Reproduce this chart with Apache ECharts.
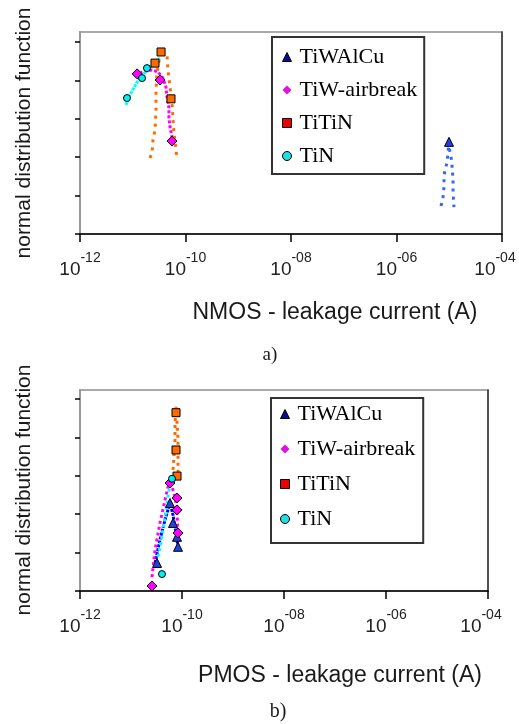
<!DOCTYPE html>
<html><head><meta charset="utf-8">
<script src="https://cdn.jsdelivr.net/npm/echarts@6/dist/echarts.min.js"></script>
<style>html,body{margin:0;padding:0;background:#fff}#c{width:519px;height:724px}</style>
</head><body><div id="c"></div>
<script>
// ---- tick labels ----
const xTickValues = [1e-12, 1e-10, 1e-8, 1e-6, 1e-4];
const xTickExponents = ['-12', '-10', '-08', '-06', '-04'];
const yTickValues = [0, 1, 2, 3, 4, 5];
const seriesNames = ['TiWAlCu', 'TiW-airbreak', 'TiTiN', 'TiN'];

// ---- chart a) NMOS ----
const aTiWAlCuX = [9.9e-6];
const aTiWAlCuY = [2.40];
const aTiWAlCuFitX = [6.98e-6, 7.62e-6, 7.95e-6, 7.95e-6, 8.30e-6, 9.06e-6, 9.46e-6, 9.9e-6, 1.03e-5, 1.13e-5, 1.13e-5, 1.18e-5, 1.18e-5, 1.18e-5, 1.23e-5];
const aTiWAlCuFitY = [0.73, 0.96, 1.22, 1.48, 1.67, 1.85, 2.11, 2.40, 2.11, 1.88, 1.67, 1.48, 1.28, 1.07, 0.70];

const aTiWX = [1.21e-11, 3.29e-11, 5.55e-11];
const aTiWY = [4.17, 4.01, 2.42];
const aTiWFitX = [1.10e-11, 1.56e-11, 2.32e-11, 3.01e-11, 3.74e-11, 4.26e-11, 4.46e-11, 4.86e-11, 4.86e-11, 5.08e-11, 5.55e-11, 5.55e-11];
const aTiWFitY = [4.14, 4.22, 4.27, 4.22, 4.06, 3.83, 3.57, 3.28, 3.02, 2.79, 2.53, 2.42];

const aTiTiNX = [2.64e-11, 3.44e-11, 5.31e-11];
const aTiTiNY = [4.45, 4.74, 3.52];
const aTiTiNFitX = [2.12e-11, 2.32e-11, 2.42e-11, 2.64e-11, 2.76e-11, 2.76e-11, 2.88e-11, 3.44e-11, 4.46e-11, 4.66e-11, 5.08e-11, 5.55e-11, 5.80e-11, 6.05e-11, 6.61e-11, 6.90e-11];
const aTiTiNFitY = [1.98, 2.11, 2.45, 2.71, 3.23, 3.75, 4.19, 4.82, 4.66, 4.27, 3.83, 3.41, 2.97, 2.63, 2.19, 1.93];

const aTiNX = [7.78e-12, 1.50e-11, 1.86e-11];
const aTiNY = [3.54, 4.06, 4.32];
const aTiNFitX = [7.45e-12, 8.87e-12, 1.21e-11, 1.86e-11, 2.42e-11, 3.29e-11];
const aTiNFitY = [3.36, 3.62, 3.96, 4.27, 4.43, 4.58];

// ---- chart b) PMOS ----
const bTiWAlCuX = [3.24e-11, 5.82e-11, 6.66e-11, 7.98e-11, 8.35e-11];
const bTiWAlCuY = [0.73, 2.29, 1.77, 1.41, 1.15];
const bTiWAlCuFitX = [2.96e-11, 3.70e-11, 4.64e-11, 5.82e-11, 6.66e-11, 7.63e-11, 8.35e-11];
const bTiWAlCuFitY = [0.73, 1.33, 1.85, 2.29, 1.98, 1.51, 1.15];

const bTiWX = [2.58e-11, 5.82e-11, 7.98e-11, 7.98e-11, 8.35e-11];
const bTiWY = [0.13, 2.81, 2.42, 2.11, 1.51];
const bTiWFitX = [2.58e-11, 2.96e-11, 3.70e-11, 4.64e-11, 5.31e-11, 6.08e-11, 7.29e-11, 7.98e-11, 8.35e-11];
const bTiWFitY = [0.36, 1.07, 1.77, 2.37, 2.71, 2.81, 2.45, 2.11, 1.41];

const bTiTiNX = [7.63e-11, 7.63e-11, 7.98e-11];
const bTiTiNY = [4.64, 3.67, 2.99];
const bTiTiNFitX = [6.66e-11, 6.97e-11, 7.29e-11, 7.29e-11, 7.63e-11, 7.98e-11, 8.35e-11, 8.35e-11, 8.35e-11, 8.73e-11];
const bTiTiNFitY = [3.15, 3.49, 3.93, 4.38, 4.79, 4.38, 3.93, 3.49, 3.15, 2.89];

const bTiNX = [4.05e-11, 6.37e-11];
const bTiNY = [0.44, 2.92];
const bTiNFitX = [3.38e-11, 4.05e-11, 4.64e-11, 5.31e-11, 6.08e-11];
const bTiNFitY = [0.89, 1.41, 1.93, 2.45, 2.92];

// ---- build ----
const zip = (xs, ys) => xs.map((x, i) => [x, ys[i]]);
const SANS = 'Liberation Sans, Arial, sans-serif';
const SERIF = 'Liberation Serif, Times New Roman, serif';

function xLabel(v) {
  const i = xTickValues.findIndex(t => Math.abs(Math.log10(t) - Math.log10(v)) < 0.01);
  if (i < 0) return '';
  const tail = (i === xTickValues.length - 1) ? '{p|\u200b}' : '';
  return '{h|\u200b}{b|10}{s|' + xTickExponents[i] + '}' + tail;
}

function xAxisFor(gi) {
  return {
    type: 'log', logBase: 100, gridIndex: gi, min: 1e-12, max: 1e-4, splitNumber: 4,
    axisLine: { show: true, lineStyle: { color: '#000', width: 1.5 } },
    axisTick: { show: true, length: 8, lineStyle: { color: '#000', width: 1.5 } },
    minorTick: { show: false }, splitLine: { show: false },
    axisLabel: {
      margin: 17, formatter: xLabel, color: '#222',
      rich: {
        h: { fontSize: 1, lineHeight: 28, width: 0, verticalAlign: 'top' },
        p: { fontSize: 1, lineHeight: 1, width: 14 },
        b: { fontFamily: SANS, fontSize: 19, color: '#222', verticalAlign: 'bottom', lineHeight: 19 },
        s: { fontFamily: SANS, fontSize: 14, color: '#222', verticalAlign: 'top', lineHeight: 14 }
      }
    }
  };
}
function yAxisFor(gi, max) {
  return {
    type: 'value', gridIndex: gi, min: 0, max: max, interval: 1,
    axisLine: { show: true, lineStyle: { color: '#999', width: 2 } },
    axisTick: { show: true, length: 5, customValues: yTickValues, lineStyle: { color: '#000', width: 1.5 } },
    axisLabel: { show: false }, splitLine: { show: false }
  };
}
function rightAxisFor(gi) {
  return {
    type: 'value', gridIndex: gi, position: 'right', min: 0, max: 1,
    axisLine: { show: true, lineStyle: { color: '#333', width: 1.5 } },
    axisTick: { show: false }, axisLabel: { show: false }, splitLine: { show: false }
  };
}

const markerStyle = {
  'TiWAlCu': { symbol: 'triangle', size: 9, color: '#2040e0' },
  'TiW-airbreak': { symbol: 'diamond', size: 10, color: '#ff00ff' },
  'TiTiN': { symbol: 'rect', size: 8, color: '#ff6a00' },
  'TiN': { symbol: 'circle', size: 7, color: '#00f0f0' }
};
const fitStyle = {
  a: {
    'TiWAlCu': { color: '#3366ff', type: [3, 5] },
    'TiW-airbreak': { color: '#ff00ff', type: [3, 2] },
    'TiTiN': { color: '#ff6a00', type: [3, 5] },
    'TiN': { color: '#00ffff', type: [3, 1] }
  },
  b: {
    'TiWAlCu': { color: '#0000ff', type: [3, 1] },
    'TiW-airbreak': { color: '#ff00ff', type: [3, 3] },
    'TiTiN': { color: '#ff6a00', type: [3, 4] },
    'TiN': { color: '#00ffff', type: [3, 3] }
  }
};

const dataSets = {
  a: {
    'TiWAlCu': [aTiWAlCuX, aTiWAlCuY, aTiWAlCuFitX, aTiWAlCuFitY],
    'TiW-airbreak': [aTiWX, aTiWY, aTiWFitX, aTiWFitY],
    'TiTiN': [aTiTiNX, aTiTiNY, aTiTiNFitX, aTiTiNFitY],
    'TiN': [aTiNX, aTiNY, aTiNFitX, aTiNFitY]
  },
  b: {
    'TiWAlCu': [bTiWAlCuX, bTiWAlCuY, bTiWAlCuFitX, bTiWAlCuFitY],
    'TiW-airbreak': [bTiWX, bTiWY, bTiWFitX, bTiWFitY],
    'TiTiN': [bTiTiNX, bTiTiNY, bTiTiNFitX, bTiTiNFitY],
    'TiN': [bTiNX, bTiNY, bTiNFitX, bTiNFitY]
  }
};

const series = [];
[['a', 0, 0, 0], ['b', 1, 1, 2]].forEach(([k, xi, gi, yi]) => {
  seriesNames.forEach(name => {
    const d = dataSets[k][name];
    const fs = fitStyle[k][name];
    series.push({
      type: 'line', name: name + ' fit ' + k, xAxisIndex: xi, yAxisIndex: yi,
      data: zip(d[2], d[3]), showSymbol: false, symbol: 'none', smooth: false,
      lineStyle: { color: fs.color, width: 3, type: fs.type, cap: 'butt' },
      silent: true, z: 2
    });
  });
  seriesNames.forEach(name => {
    const d = dataSets[k][name];
    const ms = markerStyle[name];
    series.push({
      type: 'scatter', name: name, xAxisIndex: xi, yAxisIndex: yi,
      data: zip(d[0], d[1]), symbol: ms.symbol, symbolSize: ms.size,
      itemStyle: { color: ms.color, borderColor: '#000', borderWidth: 1, opacity: 1 },
      z: 5
    });
  });
});

const legendItems = [
  { name: 'TiWAlCu', icon: 'triangle', itemStyle: { color: '#0a0a99', borderColor: '#000', borderWidth: 1 } },
  { name: 'TiW-airbreak', icon: 'diamond', itemStyle: { color: '#e010e0', borderColor: '#e010e0', borderWidth: 0 } },
  { name: 'TiTiN', icon: 'rect', itemStyle: { color: '#ee0000', borderColor: '#000', borderWidth: 1 } },
  { name: 'TiN', icon: 'circle', itemStyle: { color: '#22dddd', borderColor: '#000', borderWidth: 1 } }
];
function legendFor(left, top, gap, pad) {
  return {
    left: left, top: top, orient: 'vertical', itemWidth: 9, itemHeight: 9, itemGap: gap,
    padding: pad, borderColor: '#333', borderWidth: 2, backgroundColor: '#fff',
    selectedMode: false,
    textStyle: { fontFamily: SERIF, fontSize: 22, lineHeight: 24, color: '#000', padding: [0, 0, 0, 3] },
    data: legendItems
  };
}

const textEl = (txt, x, y, font, rot) => ({
  type: 'text', x: x, y: y, rotation: rot || 0, silent: true,
  style: { text: txt, font: font, fill: '#1a1a1a', textAlign: 'center', textVerticalAlign: 'middle' }
});

const option = {
  animation: false,
  backgroundColor: '#fff',
  grid: [
    { left: 80, top: 32, width: 422, height: 202, show: true, borderColor: '#aaa', borderWidth: 2, backgroundColor: 'transparent', outerBoundsMode: 'none', containLabel: false },
    { left: 80, top: 390, width: 408, height: 201, show: true, borderColor: '#aaa', borderWidth: 2, backgroundColor: 'transparent', outerBoundsMode: 'none', containLabel: false }
  ],
  xAxis: [xAxisFor(0), xAxisFor(1)],
  yAxis: [yAxisFor(0, 5.26), rightAxisFor(0), yAxisFor(1, 5.23), rightAxisFor(1)],
  legend: [legendFor(272, 37, 9, [8, 7, 6, 10]), legendFor(271, 398, 11, [4, 8, 12, 9])],
  series: series,
  graphic: [
    textEl('normal distribution function', 24, 133, '21px ' + SANS, Math.PI / 2),
    textEl('NMOS - leakage current (A)', 335, 313, '23px ' + SANS),
    textEl('a)', 270, 355, '19px ' + SERIF),
    textEl('normal distribution function', 24, 490, '21px ' + SANS, Math.PI / 2),
    textEl('PMOS - leakage current (A)', 340, 676, '23px ' + SANS),
    textEl('b)', 278, 712, '20px ' + SERIF)
  ]
};

const chart = echarts.init(document.getElementById('c'), null, { renderer: 'canvas' });
chart.setOption(option);
</script>
</body></html>
